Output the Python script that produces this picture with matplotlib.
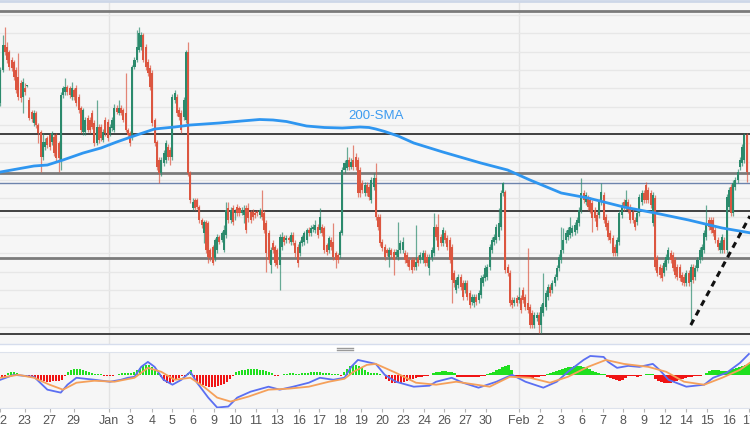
import numpy as np
import matplotlib
matplotlib.use("Agg")
import matplotlib.pyplot as plt
from matplotlib.lines import Line2D

plt.rcParams['font.family'] = ['Liberation Sans', 'DejaVu Sans']

# candles (price units), oldest first
opens = [247,280,305,303,298,290,288,280,273,267, 253,262,264,250,238,227,237,225,218,193,
         203,212,215,208,213,215,207,190,255,258, 263,262,253,260,262,253,242,218,218,232,
         230,237,227,207,223,223,210,230,228,217, 222,220,242,237,242,240,237,220,217,213,
         283,290,300,303,315,303,288,282,277,230, 208,190,177,187,190,203,200,193,250,253,
         240,237,233,230,298,177,142,150,150,143, 130,117,128,127,100,103,92,100,113,110,
         100,115,142,130,142,137,143,142,137,135, 142,142,138,138,137,138,135,140,137,127,
         117,85,107,103,100,85,103,113,110,112, 108,115,107,103,97,107,108,110,120,117,
         121,120,123,120,123,122,105,100,110,108, 97,95,95,117,180,182,190,183,190,193,
         190,180,167,157,165,163,150,163,172,133, 133,108,103,100,93,100,98,95,93,100,
         100,97,95,90,90,90,83,92,90,90, 97,93,82,92,97,123,123,113,107,117,
         112,110,103,77,60,65,73,67,60,67, 57,48,47,53,50,55,67,72,73,83,
         100,108,110,113,123,157,158,83,77,50, 47,52,50,52,60,53,47,43,37,25,
         32,35,25,37,43,53,63,60,67,73, 82,90,100,110,113,115,117,118,120,127,
         140,157,148,152,150,147,140,135,135,148, 155,133,127,117,112,103,97,108,135,148,
         143,148,143,138,130,128,137,148,157,165, 160,157,127,152,92,83,82,77,83,90,
         97,95,90,83,83,75,73,67,77,68, 83,73,82,90,93,100,113,130,130,130,
         120,110,100,100,110,100,143,163,137,163, 170,183,187,190,215]
highs = [283,315,323,308,300,293,290,283,297,270, 272,267,265,253,240,240,239,227,220,217,
         212,214,217,219,216,217,209,258,264,272, 265,264,268,262,265,256,244,242,233,235,
         233,240,230,250,226,226,221,233,231,226, 233,246,245,250,245,242,277,222,219,285,
         293,320,323,318,317,306,291,285,280,232, 210,193,193,200,210,206,203,256,260,256,
         243,240,253,300,308,179,152,152,152,145, 132,130,130,129,102,105,112,116,115,119,
         125,148,148,143,145,141,146,144,143,145, 145,147,140,141,139,140,142,160,140,130,
         120,103,110,105,102,116,118,115,115,114, 118,118,110,106,110,115,119,122,123,125,
         126,130,126,142,126,124,107,114,113,127, 99,97,120,183,190,203,193,192,205,197,
         193,183,170,168,168,166,173,177,187,136, 136,111,106,102,103,102,101,101,128,110,
         113,100,98,93,93,93,125,95,98,100, 100,96,96,103,137,126,136,116,123,120,
         115,113,106,80,73,76,76,70,70,70, 60,56,56,56,60,75,76,85,86,106,
         113,116,126,142,160,168,160,86,80,53, 53,55,63,55,63,56,102,46,40,38,
         38,38,46,77,60,66,66,70,76,85, 96,123,122,120,123,133,125,128,133,143,
         172,160,158,155,153,150,143,138,151,167, 158,136,130,120,115,106,113,140,148,151,
         160,151,146,141,133,140,156,160,160,168, 163,160,158,155,95,86,85,90,96,103,
         100,98,93,86,86,78,76,80,80,86, 86,85,93,103,106,120,145,133,133,133,
         123,113,110,116,113,156,163,166,170,173, 181,193,206,217,217]
lows = [244,278,295,287,280,279,270,257,250,248, 237,255,263,230,228,224,222,207,178,190,
        200,202,200,205,194,188,178,180,252,255, 255,252,250,250,244,237,217,215,215,218,
        217,221,204,205,207,209,208,214,209,214, 219,218,236,235,235,228,218,213,204,210,
        281,288,298,300,288,280,274,260,224,204, 180,167,174,184,187,190,185,190,247,234,
        230,217,230,227,174,147,140,140,141,127, 122,107,97,87,89,85,89,97,106,108,
        98,112,127,127,125,130,134,134,135,127, 117,128,127,130,132,134,132,130,117,78,
        87,77,97,84,82,60,100,105,107,107, 105,105,93,83,94,104,105,107,114,114,
        118,117,112,117,114,97,95,97,100,90, 82,87,92,115,177,180,180,181,180,180,
        153,153,157,154,154,150,147,160,130,120, 104,99,90,94,83,92,75,92,90,97,
        97,87,84,80,77,80,80,84,87,87, 84,84,75,89,94,110,100,104,104,107,
        100,87,47,63,57,62,60,50,57,50, 42,45,43,45,47,52,64,69,70,80,
        97,105,107,110,120,154,77,74,44,42, 44,44,47,37,47,40,37,22,22,22,
        29,17,17,34,40,50,54,57,64,70, 79,87,97,107,110,112,114,115,117,124,
        137,147,145,140,137,118,129,120,132,145, 127,120,110,107,94,94,94,105,132,139,
        140,137,127,127,120,125,134,145,147,147, 147,142,124,80,74,72,69,74,80,87,
        87,79,72,70,69,65,64,64,64,25, 67,70,79,87,90,97,110,120,117,114,
        107,100,97,97,97,97,140,134,134,160, 167,180,184,187,168]
closes = [280,305,298,290,283,282,273,260,253,252, 268,258,264.5,232,231,237,225,217,193,208,
          208,205,203,217,197,192,192,255,262,263, 258,255,262,253,247,240,220,240,230,220,
          220,223,207,223,210,212,218,217,212,223, 230,242,238,242,237,230,220,215,207,283,
          290,303,317,315,290,283,277,263,227,207, 183,177,190,197,207,193,193,253,257,237,
          233,220,250,298,177,150,148,142,143,130, 125,128,100,93,92,87,110,113,108,117,
          120,140,130,140,128,138,137,137,140,138, 120,132,130,133,135,137,140,133,120,97,
          90,100,100,87,85,113,113,108,112,110, 115,108,97,87,108,113,117,120,117,122,
          123,125,115,133,117,100,98,112,103,93, 90,90,118,180,187,190,183,188,183,183,
          157,157,160,165,157,153,170,172,133,123, 107,102,93,97,100,95,90,98,100,107,
          108,90,87,83,80,83,88,87,95,97, 87,87,93,100,123,113,103,107,120,110,
          103,90,70,67,70,73,63,53,67,53, 45,53,53,48,57,72,73,82,83,103,
          110,113,123,127,157,167,80,77,47,45, 50,47,53,40,50,43,40,25,25,35,
          35,25,43,47,57,63,57,67,73,82, 93,100,110,117,120,123,122,125,130,140,
          157,150,155,143,140,132,132,123,148,158, 130,123,113,110,97,97,110,137,145,142,
          150,140,130,130,123,137,153,157,150,150, 150,145,155,83,77,75,72,87,93,100,
          90,82,75,73,72,68,67,77,67,83, 70,82,90,100,103,117,127,123,120,117,
          110,103,107,113,100,153,160,137,167,170, 178,190,203,215,178]

# 200-SMA (bar number, value)
sma_bar = [0,15,21,28,37,45,52,61,69,78,85,98,108,116,122,128,133,137,145,153,157,161,165,168,172,178,185,
           198,215,227,237,251,263,279,293,308,323,336]
sma_val = [178,184,185,190,197,202,208,215,221,223,225,227,229,230.5,230,228.5,226,224,222.5,222,222.5,223,222.5,221,218.5,214,207,
           198,187,180,170,157,152,143,137,130,122,117]

# horizontal levels
levels = [339, 215.7, 177.3, 167.3, 139, 92.3, 15.7]
level_kind = ['grey', 'black', 'grey', 'blue', 'black', 'grey', 'black']
trend_end = 134

# MACD panel
macd_bar = [0,6,15,21,27,30,34,42,49,54,57,60,63,66,69,73,77,81,85,88,93,97,102,106,112,120,125,131,138,143,149,154,157,160,164,168,
            172,177,185,192,195,202,207,214,222,229,235,243,249,254,261,264,270,272,276,281,286,292,295,299,307,315,319,325,331,335]
macd_val = [-5,0,-2,-15,-18,-10,-3,-5,-7,-5,-3,-2,8,13,8,-5,-10,-5,3,-8,-23,-33,-32,-23,-17,-12,-15,-12,-8,-3,-5,-3,8,15,13,11,
            0,-7,-12,-11,-7,-3,-8,-13,-7,0,-7,-13,-7,3,15,19,18,13,7,9,8,11,5,-5,-12,-10,-3,2,12,21]
sig_bar = [0,8,15,22,28,34,42,51,60,66,72,78,85,91,97,103,111,120,129,138,147,154,158,164,168,
           177,186,195,204,213,219,228,237,246,254,263,271,279,290,298,306,315,323,331,336]
sig_val = [-3,0,-3,-10,-15,-8,-6,-7,-3,7,3,-5,-3,-12,-23,-27,-22,-15,-14,-12,-7,-4,3,10,11,
           2,-8,-10,-7,-10,-12,-2,-3,-8,-2,8,15,11,8,3,-7,-10,-3,5,13]
hist = [-2,-2, 2,3,3,2, -1,-1,-2,-2,-2, -3,-4,-5,-6, -7,-7,-6,-6,-6,-5, -1,
        3,5,6,6,6,5,4,3,2, 1,1,1, -1,-1,-1,-1,0, 1,2,2,2,2,3, 5,7,9,10,10,8,5, 2,-2,
        -6,-8,-8,-7,-5, -3,-1,-1, 2, 5, -3, -7,-9,-10,-11,-12,-12,-12,-11,-10,-9,-7,-4, -1,
        3,4,5,5,6,6,6,6,5,5,4,3,2, -1,-1,0, 1,1,2,2,1,1,2,2,2,3,3,3,3,2,2,2,1, 1,1,-1,
        3,6,9,10,10,9,7,5, 3,2,2,
        2,1,0, -4,-6,-8,-8,-8,-8,-7,-6,-5,-4,-3,-2,-2,-1, -1,0, 2,3,3,4,4,3,3,2,
        -2,-2,-2,-2,-2,-2,-2,-2,-1,-1, 1,2,3,5,6,8,9,10, 5,
        -1,-2,-2,-2,-2,-3,-3,-2,-2,-1,-1, 1,2,3,4,5,6,7,8,8,9,9,9,8,7,6,4,3,2,1,1,
        -2,-3,-4,-5,-6,-5,-3,-1, -1,-1,-2,-1,0, 1,1,1,
        -4,-6,-7,-8,-8,-8,-7,-6,-5,-4,-3,-2,-2,-1, -1,-1,0, 2,4,5,5,5,4,4,4, 5,6,7,8,9,10,11]

tick_pos = [0,10.8,22,32.7,48.4,57.8,67.7,76.6,86,95.4,104.8,114.2,123.7,133.5,142.5,151.9,161.3,170.7,180.1,
            189.5,198.5,207.9,217.3,232.1,241.5,250.9,260.3,269.7,278.7,288.1,297.5,306.9,316.3,326.2,335.1]
tick_labels = ['22','23','27','29','Jan','3','4','5','6','9','10','11','13','16','17','18','19','20','23',
               '24','26','27','30','Feb','2','3','6','7','8','9','12','14','15','16','17']

o = np.array(opens, float)
c = np.array(closes, float)
h = np.maximum(np.array(highs, float), np.maximum(o, c))
l = np.minimum(np.array(lows, float), np.minimum(o, c))
n = len(c)
x = np.arange(n)
xmax = n + 0.5

fig = plt.figure(figsize=(7.5, 4.3), dpi=100, facecolor='white')
ax = fig.add_axes([0, 86 / 430, 1, 342 / 430])
ax2 = fig.add_axes([0, 22 / 430, 1, 56 / 430])

green, red = '#2b8a6c', '#dc5640'
up = c >= o
cols = np.where(up, green, red)

# main panel
ax.set_facecolor('#f6f6f6')
ax.set_xlim(-0.2, xmax)
ax.set_ylim(6, 348)
ax.set_yticks(np.arange(23.3, 348, 18.33))
ax.set_xticks([])
ax.tick_params(left=False, labelleft=False)
ax.grid(axis='y', color='#e7e7e7', lw=1)
for s in ax.spines.values():
    s.set_visible(False)
for p, lab in zip(tick_pos, tick_labels):
    if lab in ('Jan', 'Feb'):
        ax.axvline(p, color='#e3e3e3', lw=1, zorder=0.5)
        ax2.axvline(p, color='#e3e3e3', lw=1, zorder=0.5)

styles = {'grey': ('#7b7b7b', 2.0), 'black': ('#333333', 1.3), 'blue': ('#6d84ad', 1.0)}
for lv, k in zip(levels, level_kind):
    ax.axhline(lv, color=styles[k][0], lw=styles[k][1], zorder=2)

ax.vlines(x, l, h, colors=cols, lw=0.9, alpha=0.7, zorder=3)
ax.bar(x, np.maximum(np.abs(c - o), 1.0), bottom=np.minimum(o, c), width=0.9,
       color=cols, zorder=4)

ax.plot(sma_bar, sma_val, color='#2f96f0', lw=2, zorder=5)
ax.text(168, 234, '200-SMA', color='#3d9bf0', fontsize=9.5, ha='center', va='center')

i0 = 280 + int(np.argmin(l[280:]))
ax.plot([i0, xmax], [l[i0], trend_end], color='#111111', lw=2.2,
        ls=(0, (2.0, 1.6)), zorder=6)

# MACD panel
ax2.set_facecolor('#f6f6f6')
ax2.set_xlim(-0.2, xmax)
ax2.set_ylim(-33.5, 23)
hv = np.array(hist, float)
hx = (np.arange(len(hv)) + 0.5) * xmax / len(hv)
ax2.bar(hx, hv, width=xmax / len(hv) * 0.8, color=np.where(hv >= 0, '#1fe01f', '#f01414'), zorder=2)
ax2.plot(macd_bar, macd_val, color='#5b6ff2', lw=1.3, zorder=3)
ax2.plot(sig_bar, sig_val, color='#f5a05a', lw=1.3, zorder=3)
ax2.set_yticks([])
for s in ('left', 'right'):
    ax2.spines[s].set_visible(False)
for s in ('top', 'bottom'):
    ax2.spines[s].set_color('#dde2ec')
ax2.set_xticks(tick_pos)
ax2.set_xticklabels(tick_labels, fontsize=9, color='#555555')
ax2.tick_params(axis='x', length=3, color='#b5b5b5', pad=2)

# frame lines and the panel handle
fig.add_artist(Line2D([0, 1], [0.998, 0.998], color='#cdd7e8', lw=2))
fig.add_artist(Line2D([0, 1], [86 / 430, 86 / 430], color='#d6dded', lw=1))
fig.add_artist(Line2D([337 / 750, 353 / 750], [1 - 347.5 / 430] * 2, color='#9a9a9a', lw=1))
fig.add_artist(Line2D([337 / 750, 353 / 750], [1 - 349.5 / 430] * 2, color='#9a9a9a', lw=1))

fig.savefig('out.png', dpi=100, facecolor='white')
